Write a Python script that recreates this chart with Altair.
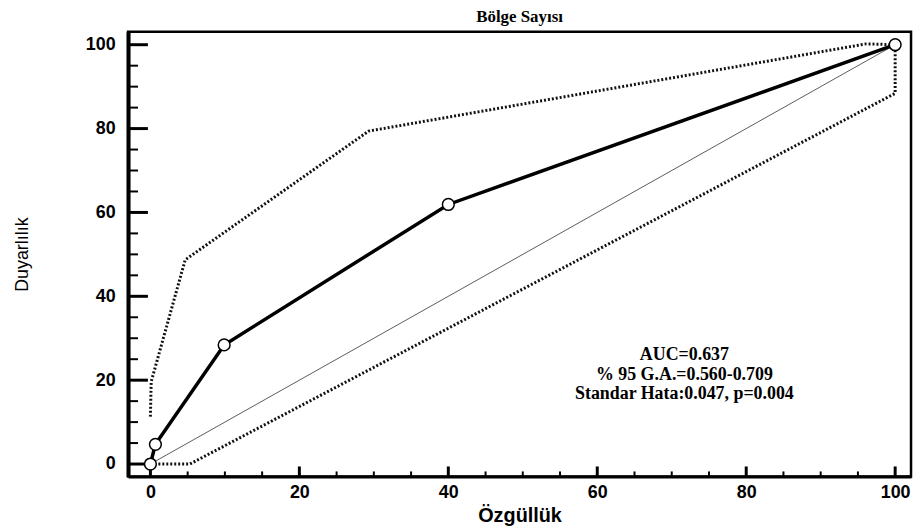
import altair as alt
import pandas as pd

# ROC curve (Özgüllük = specificity axis, Duyarlılık = sensitivity)
roc_x = [0, 0.67, 9.9, 40.0, 100]
roc_y = [0, 4.7, 28.4, 61.9, 100]

# Confidence band (dotted)
upper_x = [0, 0.1, 4.67, 29.3, 96.1, 100]
upper_y = [11.3, 19.6, 48.7, 79.4, 100.2, 100]
lower_x = [0, 5.3, 100, 100]
lower_y = [0, 0, 88.4, 98.6]

# Reference diagonal
diag_x = [0, 100]
diag_y = [0, 100]

major_ticks = [0, 20, 40, 60, 80, 100]
minor_ticks = [5, 10, 15, 25, 30, 35, 45, 50, 55, 65, 70, 75, 85, 90, 95]

annot_lines = ["AUC=0.637", "% 95 G.A.=0.560-0.709", "Standar Hata:0.047, p=0.004"]
annot_x = [71.7, 71.7, 71.7]
annot_y = [26.0, 21.3, 16.6]

W, H = 789, 448

xscale = alt.Scale(domain=[-3.0, 102.13], nice=False, zero=False)
yscale = alt.Scale(domain=[-2.95, 103.07], nice=False, zero=False)

roc_df = pd.DataFrame({"x": roc_x, "y": roc_y, "i": range(len(roc_x))})
up_df = pd.DataFrame({"x": upper_x, "y": upper_y, "i": range(len(upper_x))})
lo_df = pd.DataFrame({"x": lower_x, "y": lower_y, "i": range(len(lower_x))})
dg_df = pd.DataFrame({"x": diag_x, "y": diag_y, "i": range(len(diag_x))})
ann_df = pd.DataFrame({"x": annot_x, "y": annot_y, "t": annot_lines})
maj_x = pd.DataFrame({"x": major_ticks})
min_x = pd.DataFrame({"x": minor_ticks})
maj_y = pd.DataFrame({"y": major_ticks})
min_y = pd.DataFrame({"y": minor_ticks})

xaxis = alt.Axis(
    values=major_ticks, grid=False, ticks=False,
    domainColor="black", domainWidth=3,
    labelFont="Liberation Sans", labelFontWeight="bold", labelFontSize=18,
    labelColor="black", labelPadding=7,
    title="Özgüllük", titleFont="Liberation Sans", titleFontWeight="bold",
    titleFontSize=20, titleColor="black", titlePadding=4,
)
yaxis = alt.Axis(
    values=major_ticks, grid=False, ticks=False,
    domainColor="black", domainWidth=4,
    labelFont="Liberation Sans", labelFontWeight="bold", labelFontSize=18,
    labelColor="black", labelPadding=13,
    title="Duyarlılık", titleFont="Liberation Sans",
    titleFontWeight="normal", titleFontSize=18, titleColor="black",
    titlePadding=54,
)

X = alt.X("x:Q", scale=xscale, axis=xaxis)
Y = alt.Y("y:Q", scale=yscale, axis=yaxis)

diag = alt.Chart(dg_df).mark_line(color="#333333", strokeWidth=0.8).encode(
    x=X, y=Y, order="i:Q")

upper = alt.Chart(up_df).mark_line(color="#111111", strokeWidth=3, strokeDash=[2, 2]).encode(
    x=X, y=Y, order="i:Q")
lower = alt.Chart(lo_df).mark_line(color="#111111", strokeWidth=3, strokeDash=[2, 2]).encode(
    x=X, y=Y, order="i:Q")

roc_line = alt.Chart(roc_df).mark_line(color="black", strokeWidth=3.5).encode(
    x=X, y=Y, order="i:Q")
roc_pts = alt.Chart(roc_df).mark_point(
    shape="circle", filled=True, fill="white", stroke="black", strokeWidth=1.5,
    size=140, opacity=1).encode(x=X, y=Y)

ytick_major = alt.Chart(maj_y).mark_rule(color="black", strokeWidth=3).encode(
    y=Y, x=alt.value(0), x2=alt.value(20))
ytick_minor = alt.Chart(min_y).mark_rule(color="black", strokeWidth=2).encode(
    y=Y, x=alt.value(0), x2=alt.value(10))
xtick_major = alt.Chart(maj_x).mark_rule(color="black", strokeWidth=3).encode(
    x=X, y=alt.value(H), y2=alt.value(H - 10))
xtick_minor = alt.Chart(min_x).mark_rule(color="black", strokeWidth=2).encode(
    x=X, y=alt.value(H), y2=alt.value(H - 5))

ann = alt.Chart(ann_df).mark_text(
    font="Liberation Serif", fontWeight="bold", fontSize=18, color="black",
    align="center", baseline="middle").encode(x=X, y=Y, text="t:N")

chart = alt.layer(
    diag, upper, lower, ytick_major, ytick_minor, xtick_major, xtick_minor,
    roc_line, roc_pts, ann,
).properties(
    width=W, height=H,
    title=alt.TitleParams(
        "Bölge Sayısı", font="Liberation Serif", fontWeight="bold", fontSize=17,
        color="black", anchor="middle", offset=6),
    autosize=alt.AutoSizeParams(type="none"),
    padding={"left": 121, "top": 22, "right": 3, "bottom": 53},
).configure(
    background="white",
    view=alt.ViewConfig(stroke="black", strokeWidth=2.5),
)

chart.save("out.html", embed_options={"renderer": "svg", "actions": False})
